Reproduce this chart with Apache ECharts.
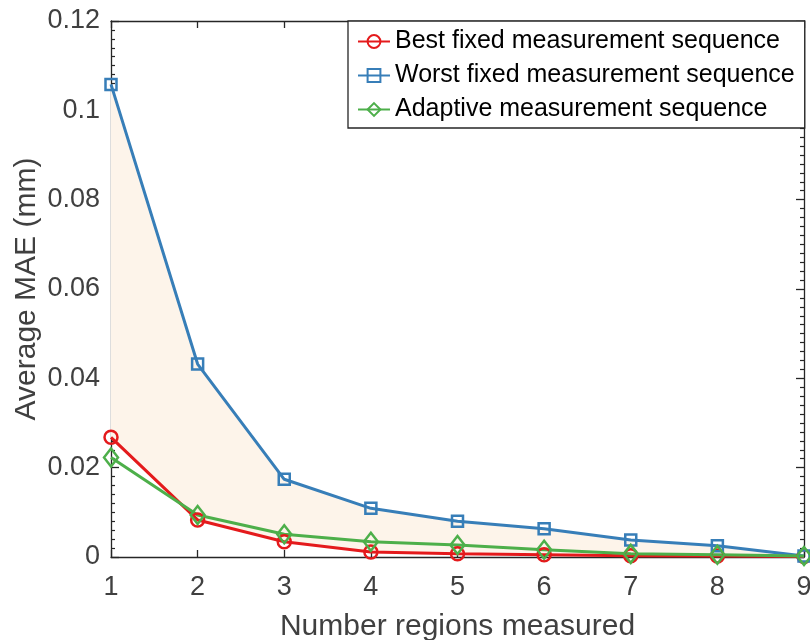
<!DOCTYPE html>
<html>
<head>
<meta charset="utf-8">
<script src="https://cdn.jsdelivr.net/npm/echarts@6/dist/echarts.min.js"></script>
<style>
html,body{margin:0;padding:0;background:#fff;}
#chart{width:810px;height:640px;}
</style>
</head>
<body>
<div id="chart"></div>
<script>
const categories = ['1','2','3','4','5','6','7','8','9'];
const bestFixed = [0.0268, 0.0083, 0.0034, 0.0011, 0.0007, 0.0005, 0.0003, 0.0002, 0.0001];
const worstFixed = [0.1058, 0.0432, 0.0174, 0.0109, 0.0080, 0.0063, 0.0038, 0.0025, 0.0002];
const adaptive = [0.0223, 0.0094, 0.0051, 0.0034, 0.0027, 0.0016, 0.0007, 0.0005, 0.0002];
const seriesNames = ['Best fixed measurement sequence','Worst fixed measurement sequence','Adaptive measurement sequence'];
const yTicks = { min: 0, max: 0.12, interval: 0.02 };

const FONT = "'Liberation Sans', Arial, sans-serif";
const AX = '#262626';
const LBL = '#404040';
const RED = '#e41a1c', BLUE = '#377eb8', GREEN = '#4daf4a';
const bandTop = worstFixed.map((v, i) => v - bestFixed[i]);

const chart = echarts.init(document.getElementById('chart'), null, {renderer: 'canvas'});
const baseX = {
  type: 'category', data: categories, boundaryGap: false,
  axisLine: {show: true, onZero: false, lineStyle: {color: AX, width: 1.3}},
  axisTick: {show: true, inside: true, length: 7, alignWithLabel: true, lineStyle: {color: AX, width: 1.3}},
  splitLine: {show: false}
};
const baseY = {
  type: 'value', min: yTicks.min, max: yTicks.max, interval: yTicks.interval,
  axisLine: {show: true, onZero: false, lineStyle: {color: AX, width: 1.3}},
  axisTick: {show: true, inside: true, length: 8, lineStyle: {color: AX, width: 1.3}},
  minorTick: {show: true, splitNumber: 10, length: 4, lineStyle: {color: AX, width: 1.2}},
  splitLine: {show: false}, minorSplitLine: {show: false}
};
const mk = (name, data, color, symbol, size) => ({
  name, type: 'line', data, xAxisIndex: 0, yAxisIndex: 0,
  symbol, symbolSize: size, showSymbol: true, clip: false,
  lineStyle: {color, width: 3},
  itemStyle: {color: 'rgba(255,255,255,0)', borderColor: color, borderWidth: 2.5},
  emphasis: {disabled: true}, z: 5
});
chart.setOption({
  animation: false,
  backgroundColor: '#fff',
  textStyle: {fontFamily: FONT},
  grid: {left: 111, right: 6, top: 21, bottom: 83, containLabel: false, outerBoundsMode: 'none'},
  legend: {
    data: seriesNames, orient: 'vertical', left: 348, top: 21,
    width: 440, itemWidth: 32, itemHeight: 16, itemGap: 3,
    padding: [5, 10, 3, 9],
    borderColor: AX, borderWidth: 1.3, backgroundColor: '#fff',
    textStyle: {fontFamily: FONT, fontSize: 25, color: '#000', lineHeight: 31},
    selectedMode: false
  },
  xAxis: [
    Object.assign({}, baseX, {position: 'bottom',
      axisLabel: {show: true, fontFamily: FONT, fontSize: 27, color: LBL, margin: 17},
      name: 'Number regions measured', nameLocation: 'middle', nameGap: 55, nameMoveOverlap: false,
      nameTextStyle: {fontFamily: FONT, fontSize: 30, color: LBL}}),
    Object.assign({}, baseX, {position: 'top', axisLabel: {show: false}})
  ],
  yAxis: [
    Object.assign({}, baseY, {position: 'left',
      axisLabel: {show: true, fontFamily: FONT, fontSize: 27, color: LBL, margin: 11},
      name: 'Average MAE (mm)', nameLocation: 'middle', nameGap: 69, nameRotate: 90, nameMoveOverlap: false,
      nameTextStyle: {fontFamily: FONT, fontSize: 30, color: LBL}}),
    Object.assign({}, baseY, {position: 'right', axisLabel: {show: false}})
  ],
  series: [
    {name: 'bandBase', type: 'line', data: bestFixed, stack: 'band', symbol: 'none',
     lineStyle: {opacity: 0}, silent: true, z: 1},
    {name: 'bandTop', type: 'line', data: bandTop, stack: 'band', symbol: 'none',
     lineStyle: {opacity: 0}, areaStyle: {color: '#fdf4ea', opacity: 1}, silent: true, z: 1},
    mk(seriesNames[0], bestFixed, RED, 'circle', 13),
    mk(seriesNames[1], worstFixed, BLUE, 'rect', 11),
    mk(seriesNames[2], adaptive, GREEN, 'diamond', [14, 18])
  ]
});
</script>
</body>
</html>
